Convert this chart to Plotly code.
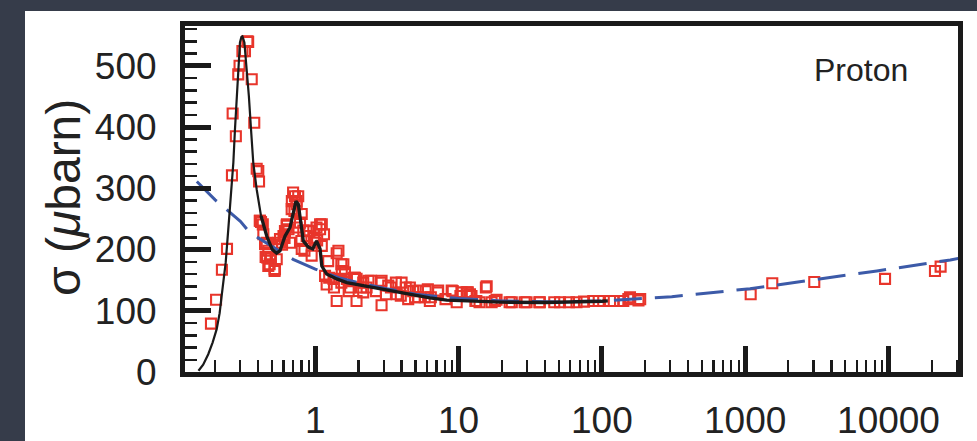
import plotly.graph_objects as go

# ---------------- data ----------------
data_x = [0.187, 0.203, 0.223, 0.242, 0.262, 0.265, 0.279, 0.29, 0.296, 0.31, 0.323, 0.34, 0.336,
          0.36, 0.375, 0.39, 0.405, 0.40, 0.411, 0.418, 0.434, 0.446, 0.458, 0.45, 0.47, 0.484, 0.47,
          0.49, 0.52, 0.523, 0.538, 0.55, 0.567, 0.60, 0.614, 0.631, 0.65, 0.666, 0.684, 0.70, 0.721,
          0.741, 0.76, 0.782, 0.804, 0.804, 0.825, 0.87, 0.894, 0.943, 0.995, 1.03, 1.08, 1.08, 1.11,
          1.17, 1.20, 1.23, 1.34, 1.41, 1.45, 1.53, 1.57, 1.61, 1.66, 1.75, 1.89, 1.94, 1.94, 2.16,
          2.16, 2.28, 2.45, 2.9, 2.9, 3.23, 3.7, 4.0, 4.45, 4.57, 4.97, 5.2, 5.8, 6.1, 6.3, 7.2, 8.95,
          9.7, 10.5, 11.4, 12, 12.3, 13.3, 14, 15.7, 17, 18.4, 23.5, 29.8, 36.9, 51, 66.5, 87, 114,
          141, 157, 185,
          1.25, 1.35, 1.52, 1.71, 1.86, 2.09, 2.35, 2.65, 2.87, 3.11, 3.37, 3.65, 3.95, 4.28, 4.82,
          5.22, 5.89, 6.4, 7.17, 8.1, 9.1, 10.3, 11.6, 13.1, 15.5, 17.9, 22.7, 28.9, 36.6, 46.5, 58.9,
          75, 95, 121, 153, 180,
          1.41, 1.52, 1.11, 1.15, 0.98, 1.02, 0.91, 0.80, 0.84, 0.74, 0.715, 0.686, 0.74, 0.634, 0.61,
          0.586, 0.46, 0.48, 0.52, 0.43, 0.41,
          1092, 1545, 3034, 9460, 21100, 23100]
data_y = [79, 118, 167, 201, 321, 422, 385, 486, 500, 524, 524, 539, 540,
          478, 407, 332, 311, 328, 247, 245, 225, 209, 211, 188, 198, 187, 173,
          185, 168, 168, 184, 211, 217, 222, 230, 239, 233, 211, 266, 293, 287,
          274, 287, 244, 258, 201, 231, 222, 231, 190, 211, 215, 241, 233, 206,
          157, 143, 181, 152, 116, 198, 165, 176, 163, 152, 138, 154, 116, 152, 130,
          146, 138, 149, 149, 109, 141, 127, 146, 119, 138, 122, 133, 122, 135, 116, 133, 133,
          114, 130, 130, 127, 124, 116, 114, 140, 114, 118, 114, 114, 114, 114, 114, 116, 116,
          116, 122, 119,
          154, 138, 146, 132, 154, 138, 149, 132, 146, 127, 138, 146, 124.5, 138, 132,
          122, 132, 122, 130, 119, 132, 124, 130, 116, 138, 116, 114, 114, 114, 114, 114,
          115, 116, 116, 119, 117,
          194, 176, 241, 225, 219, 236, 230, 214, 198, 236, 263, 279, 279, 241, 219,
          208, 187, 176, 165, 241, 247,
          127, 145, 147, 152, 165, 172]

fit_x = [0.153, 0.165, 0.179, 0.192, 0.205, 0.215, 0.222, 0.230, 0.237, 0.247, 0.258, 0.268,
         0.275, 0.283, 0.290, 0.298, 0.305, 0.31, 0.32, 0.332, 0.344, 0.356, 0.369, 0.39, 0.418,
         0.458, 0.501, 0.537, 0.567, 0.615, 0.666, 0.70, 0.733, 0.761, 0.791, 0.825, 0.894, 0.959,
         1.02, 1.08, 1.11, 1.2, 1.27, 1.41, 1.66, 2.16, 2.83, 3.7, 4.83, 6.3, 8.27, 13.4, 20, 40,
         70, 100, 110]
fit_y = [2, 12, 29, 48, 70, 96, 124, 150, 179, 233, 288, 342,
         396, 450, 505, 538, 547, 548, 538, 499, 450, 396, 342, 298, 255,
         222, 200, 194, 198, 222, 236, 260, 279, 274, 245, 214, 204, 201,
         214, 201, 173, 160, 157, 152, 146, 141, 135, 130, 125, 121, 117.5, 115, 114, 113.5,
         114, 115.5, 116]

regge_x = [0.149, 0.2, 0.25, 0.3, 0.34, 0.4, 0.5, 0.583, 0.7, 1.0, 1.5, 2, 3, 5, 10, 20, 50,
           100, 200, 307, 1080, 3000, 8300, 27000, 31500]
regge_y = [311, 281, 262, 246, 231, 219, 205, 195, 184, 168, 153, 146, 137, 127, 120, 116, 114.5,
           116, 120, 123, 136, 150, 165, 183, 186]

x_tick_vals = [1, 10, 100, 1000, 10000]
x_tick_text = ["1", "10", "100", "1000", "10000"]
y_tick_vals = [0, 100, 200, 300, 400, 500]
y_tick_text = ["0", "100", "200", "300", "400", "500"]

FONT = "Liberation Sans, Arial, Helvetica, sans-serif"

fig = go.Figure()

fig.add_trace(go.Scatter(
    x=data_x, y=data_y, mode="markers",
    marker=dict(symbol="square-open", size=10, color="#e8352b", line=dict(width=2.1, color="#e8352b")),
    showlegend=False, hoverinfo="skip"))

fig.add_trace(go.Scatter(
    x=regge_x, y=regge_y, mode="lines",
    line=dict(color="#3c5aa8", width=3, dash="28px,13px"),
    showlegend=False, hoverinfo="skip"))

split = 24  # thin line over the low-energy peak, thicker afterwards
fig.add_trace(go.Scatter(
    x=fit_x[:split + 1], y=fit_y[:split + 1], mode="lines",
    line=dict(color="#1a1a1a", width=2.2), showlegend=False, hoverinfo="skip"))
fig.add_trace(go.Scatter(
    x=fit_x[split:], y=fit_y[split:], mode="lines",
    line=dict(color="#1a1a1a", width=3.3), showlegend=False, hoverinfo="skip"))

L, R, T, B = 185, 19, 26, 69
W, H = 977, 441
pw, ph = W - L - R, H - T - B

fig.update_layout(
    template="none",
    width=W, height=H,
    margin=dict(l=L, r=R, t=T, b=B, pad=0, autoexpand=False),
    paper_bgcolor="#363c4a",
    plot_bgcolor="white",
    font=dict(family=FONT, color="#222222"),
    shapes=[dict(type="rect", xref="paper", yref="paper", layer="below",
                 x0=(25 - L) / pw, x1=(W + 5 - L) / pw,
                 y0=-(H + 5 - (H - B)) / ph, y1=((H - B) - 11) / ph,
                 fillcolor="white", line=dict(width=0))],
    annotations=[
        dict(text="Proton", xref="paper", yref="paper",
             x=(812 - L) / pw, y=((H - B) - 70) / ph, xanchor="left", yanchor="middle",
             showarrow=False, font=dict(size=32, family=FONT, color="#222222")),
        dict(text="σ (<i>μ</i>barn)", xref="paper", yref="paper",
             x=(63 - L) / pw, y=((H - B) - 198) / ph, xanchor="center", yanchor="middle",
             textangle=-90, showarrow=False, font=dict(size=48, family=FONT, color="#222222")),
    ],
)

fig.update_xaxes(
    type="log", range=[-0.9093, 4.485], automargin=False,
    showgrid=False, zeroline=False,
    showline=True, linewidth=5, linecolor="#1a1a1a", mirror=True,
    tickmode="array", tickvals=x_tick_vals, ticktext=x_tick_text,
    ticks="inside", ticklen=26, tickwidth=5, tickcolor="#1a1a1a",
    ticklabelstandoff=12,
    tickfont=dict(size=37, family=FONT, color="#222222"),
    minor=dict(ticks="inside", ticklen=12, tickwidth=2.2, tickcolor="#1a1a1a", dtick="D1", showgrid=False),
)
fig.update_yaxes(
    range=[0, 565], automargin=False,
    showgrid=False, zeroline=False,
    showline=True, linewidth=5, linecolor="#1a1a1a", mirror=True,
    tickmode="array", tickvals=y_tick_vals, ticktext=y_tick_text,
    ticks="inside", ticklen=26, tickwidth=5, tickcolor="#1a1a1a",
    ticklabelstandoff=16,
    tickfont=dict(size=37, family=FONT, color="#222222"),
    minor=dict(ticks="inside", ticklen=12, tickwidth=2.5, tickcolor="#1a1a1a", tickmode="linear",
               tick0=0, dtick=20, showgrid=False),
)

fig.write_html(
    "out.html",
    config={"displayModeBar": False, "staticPlot": True},
    post_script="document.body.style.margin='0';document.body.style.overflow='hidden';"
                "document.body.style.background='#363c4a';",
)
